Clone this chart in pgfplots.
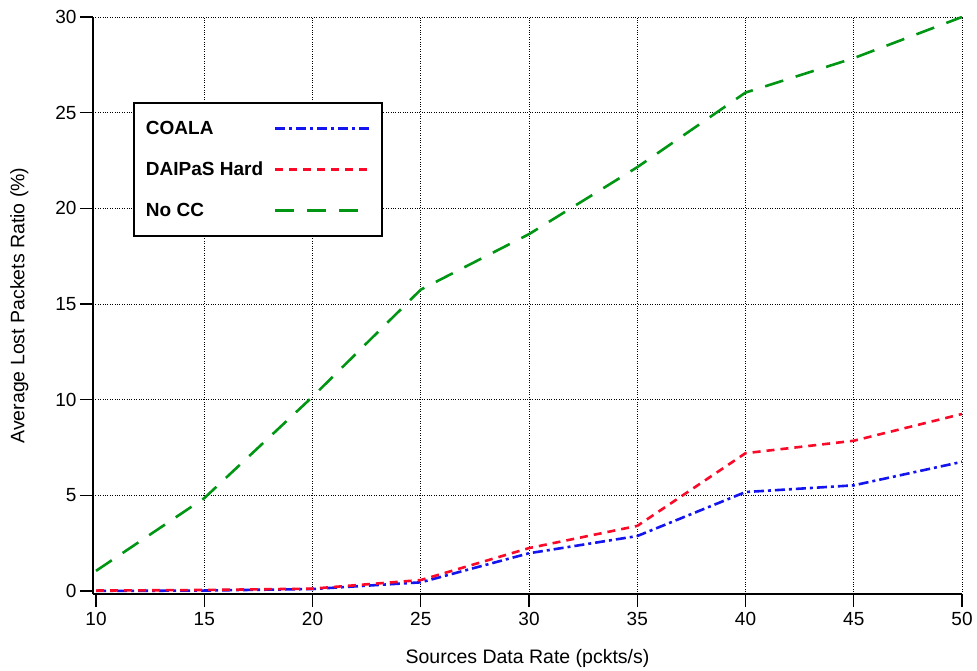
\documentclass[border=0pt]{standalone}
\usepackage{pgfplots}
\pgfplotsset{compat=1.18}
\usepackage{fontspec}
\setmainfont{Liberation Sans}
\definecolor{cblue}{RGB}{20,20,240}
\definecolor{cred}{RGB}{250,10,40}
\definecolor{cgreen}{RGB}{0,150,20}
\begin{document}
\begin{tikzpicture}
\path[use as bounding box] (0,0) rectangle (977pt,670pt);
\begin{axis}[
  at={(93pt,76pt)}, anchor=south west,
  scale only axis, width=869pt, height=577pt,
  xmin=9.86, xmax=50, ymin=-0.16, ymax=30,
  axis x line*=bottom, axis y line*=left,
  axis line style={line width=1.3pt},
  xtick={15,20,...,50}, ytick={5,10,...,30},
  extra x ticks={10}, extra y ticks={0},
  extra tick style={grid=none},
  tick align=outside, major tick length=13pt,
  tick style={line width=1.3pt, black},
  grid=major,
  major grid style={dotted, black, line width=0.8pt},
  /pgf/number format/assume math mode=true,
  tick label style={font=\fontsize{19}{21}\selectfont},
  xticklabel style={yshift=-2pt},
  label style={font=\fontsize{19.5}{22}\selectfont},
  xlabel={Sources Data Rate (pckts/s)},
  ylabel={Average Lost Packets Ratio (\%)},
  xlabel style={yshift=9pt},
  ylabel style={yshift=-6pt},
  legend plot pos=right,
  legend cell align=left,
  legend image code/.code={\draw[#1] (0pt,0pt) -- (95pt,0pt);},
  legend style={at={(0.046,0.853)}, anchor=north west,
    draw=black, line width=2pt,
    font=\fontsize{19}{21}\selectfont\bfseries,
    inner xsep=10pt, inner ysep=16pt, row sep=22pt},
]
\addplot[cblue, line width=2.6pt, dash pattern=on 10pt off 4pt on 3pt off 4pt] coordinates {
(10,0) (15,0.02) (20,0.1) (25,0.45) (30,1.97) (35,2.87) (40,5.17) (45,5.52) (50,6.75)};
\addlegendentry{\makebox[126pt][l]{COALA}}
\addplot[cred, line width=2.6pt, dash pattern=on 8pt off 6pt] coordinates {
(10,0.02) (15,0.05) (20,0.12) (25,0.57) (30,2.24) (35,3.4) (40,7.2) (45,7.85) (50,9.25)};
\addlegendentry{\makebox[126pt][l]{DAIPaS Hard}}
\addplot[cgreen, line width=2.6pt, dash pattern=on 19pt off 13pt] coordinates {
(10,1.05) (15,4.85) (20,10.15) (25,15.75) (30,18.65) (35,22.15) (40,26.05) (45,27.85) (50,30.0)};
\addlegendentry{\makebox[126pt][l]{No CC}}
\end{axis}
\end{tikzpicture}
\end{document}
